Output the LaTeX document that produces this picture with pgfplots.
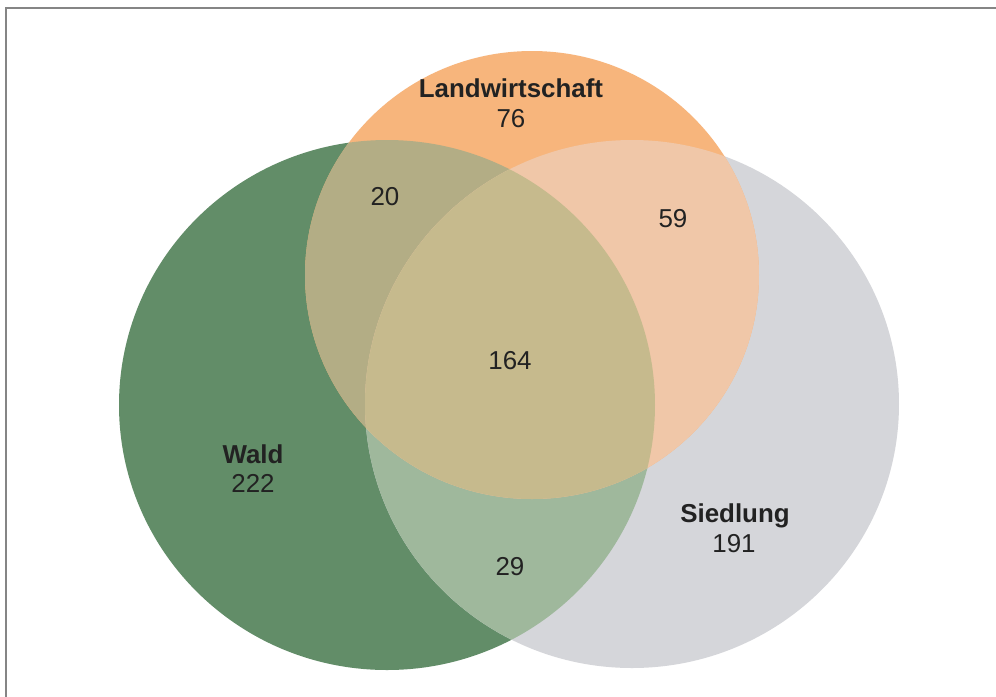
\documentclass[border=0pt]{standalone}
\usepackage{pgfplots}
\pgfplotsset{compat=1.18}
\usepackage{pgfplotstable}
\usepackage{fontspec}
\setmainfont{Liberation Sans}

\definecolor{cG}{HTML}{628D68}
\definecolor{cS}{HTML}{D5D6DA}
\definecolor{cL}{HTML}{F7B57C}
\definecolor{cGS}{HTML}{9FB89C}
\definecolor{cGL}{HTML}{B3AD85}
\definecolor{cLS}{HTML}{F0C7A8}
\definecolor{cGLS}{HTML}{C6BA8D}
\definecolor{txt}{HTML}{222222}

% set names (x, y baseline in pixel space)
\pgfplotstableread{
x y label
511 97 Landwirtschaft
253 463 Wald
735 522 Siedlung
}\names
% region counts
\pgfplotstableread{
x y label
511 127 76
253 492 222
734 552 191
385 205 20
673 227 59
510 369 164
510 575 29
}\counts

\def\Gx{387}\def\Gy{405}\def\Grx{268}\def\Gry{265}
\def\Sx{632}\def\Sy{404}\def\Srx{267}\def\Sry{264}
\def\Lx{532}\def\Ly{275}\def\Lrx{227}\def\Lry{224}

\begin{document}
\begin{tikzpicture}
\begin{axis}[
  x=1bp, y=1bp, xmin=0, xmax=996, ymin=0, ymax=697,
  y dir=reverse, hide axis, clip=false, scale only axis,
  anchor=south west, at={(0,0)},
]
\fill[white] (axis cs:0,0) rectangle (axis cs:996,697);
\draw[line width=2bp, color=black!48] (axis cs:6,697) -- (axis cs:6,8) -- (axis cs:996,8);

\fill[cG] (axis cs:\Gx,\Gy) ellipse [x radius=\Grx, y radius=\Gry];
\fill[cS] (axis cs:\Sx,\Sy) ellipse [x radius=\Srx, y radius=\Sry];
\fill[cL] (axis cs:\Lx,\Ly) ellipse [x radius=\Lrx, y radius=\Lry];
\begin{scope}
  \clip (axis cs:\Gx,\Gy) ellipse [x radius=\Grx, y radius=\Gry];
  \fill[cGS] (axis cs:\Sx,\Sy) ellipse [x radius=\Srx, y radius=\Sry];
  \fill[cGL] (axis cs:\Lx,\Ly) ellipse [x radius=\Lrx, y radius=\Lry];
\end{scope}
\begin{scope}
  \clip (axis cs:\Sx,\Sy) ellipse [x radius=\Srx, y radius=\Sry];
  \fill[cLS] (axis cs:\Lx,\Ly) ellipse [x radius=\Lrx, y radius=\Lry];
\end{scope}
\begin{scope}
  \clip (axis cs:\Gx,\Gy) ellipse [x radius=\Grx, y radius=\Gry];
  \clip (axis cs:\Sx,\Sy) ellipse [x radius=\Srx, y radius=\Sry];
  \fill[cGLS] (axis cs:\Lx,\Ly) ellipse [x radius=\Lrx, y radius=\Lry];
\end{scope}

\addplot[draw=none, mark=none, nodes near coords, point meta=explicit symbolic,
  every node near coord/.append style={anchor=base, inner sep=0pt, text=txt,
    font=\fontsize{26}{31}\selectfont\bfseries}]
  table[x=x, y=y, meta=label] {\names};
\addplot[draw=none, mark=none, nodes near coords, point meta=explicit symbolic,
  every node near coord/.append style={anchor=base, inner sep=0pt, text=txt,
    font=\fontsize{26}{31}\selectfont}]
  table[x=x, y=y, meta=label] {\counts};
\end{axis}
\pgfresetboundingbox
\path[use as bounding box] (0,0) rectangle (996bp,697bp);
\end{tikzpicture}
\end{document}
